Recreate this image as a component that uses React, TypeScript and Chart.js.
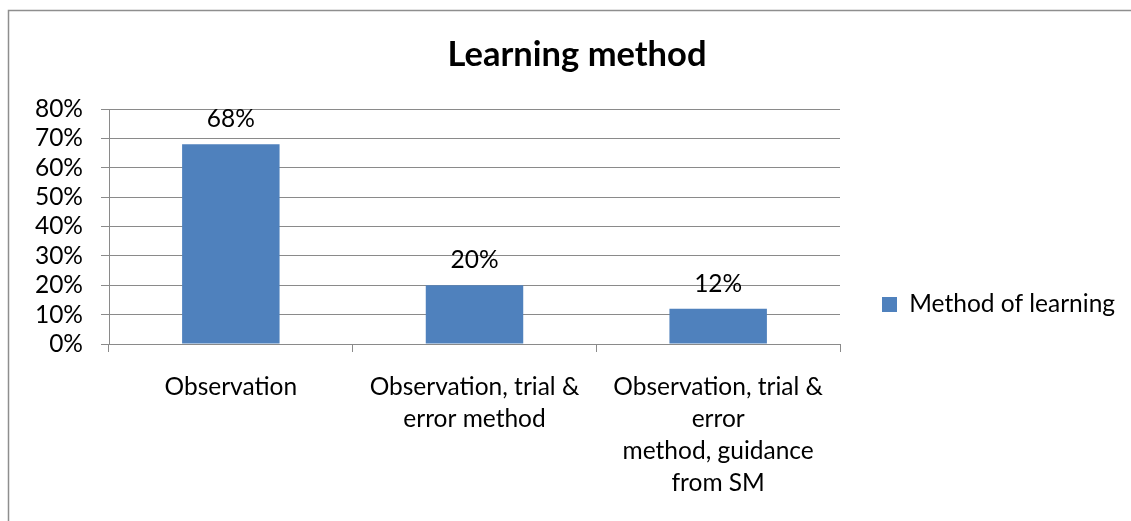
import React, { useEffect, useRef } from 'react';
import { Chart, registerables } from 'chart.js';

Chart.register(...registerables);

// ---- data ----
const chartTitle = 'Learning method';
const seriesName = 'Method of learning';
const categories: string[][] = [
  ['Observation'],
  ['Observation, trial &', 'error method'],
  ['Observation, trial &', 'error', 'method, guidance', 'from SM'],
];
const values: number[] = [68, 20, 12];
const yMax = 80;
const yStep = 10;

// ---- styling ----
const FONT = 'Lato';
const LABEL_SIZE = 24.5;
const TITLE_SIZE = 34.5;
const BAR_COLOR = '#4f81bd';
const GRID_COLOR = '#8a8a8a';
const W = 1131;
const H = 521;

export default function App() {
  const ref = useRef<HTMLCanvasElement>(null);

  useEffect(() => {
    document.body.style.margin = '0';
    const canvas = ref.current!;
    let chart: Chart | null = null;
    let cancelled = false;

    const legendPad = 42;
    const boxW = 15;
    const plotRight = 840;
    const plotLeft = 109;
    const titleCenter = 577;
    const pr = 10;
    const legendW = W - plotRight - pr;
    const pl = 2 * titleCenter - W + pr;
    const padBottom = 3;
    const titleLH = TITLE_SIZE * 1.2;
    const plotTop = 109;
    const titlePadTop = 34;

    const borderPlugin = {
      id: 'outerBorder',
      afterLayout(c: any) {
        // let y tick labels extend left of the padded area without being clipped
        if (c.scales.y) c.scales.y.left = 0;
      },
      beforeDraw(c: any) {
        const ctx = c.ctx;
        ctx.save();
        ctx.fillStyle = '#ffffff';
        ctx.fillRect(0, 0, c.width, c.height);
        ctx.strokeStyle = '#8e8e8e';
        ctx.lineWidth = 1.5;
        ctx.strokeRect(8.5, 10.5, c.width + 50, c.height + 50);
        ctx.restore();
      },
    };

    const valueLabels = {
      id: 'valueLabels',
      afterDatasetsDraw(c: any) {
        const ctx = c.ctx;
        const meta = c.getDatasetMeta(0);
        ctx.save();
        ctx.font = `${LABEL_SIZE}px ${FONT}`;
        ctx.fillStyle = '#000';
        ctx.textAlign = 'center';
        ctx.textBaseline = 'alphabetic';
        meta.data.forEach((bar: any, i: number) => {
          ctx.fillText(`${values[i]}%`, bar.x, bar.y - 17);
        });
        ctx.restore();
      },
    };

    const build = () => {
      if (cancelled) return;
      chart = new Chart(canvas, {
        type: 'bar',
        data: {
          labels: categories,
          datasets: [
            {
              label: seriesName,
              data: values,
              backgroundColor: BAR_COLOR,
              borderWidth: 0,
              barPercentage: 0.4,
              categoryPercentage: 1,
            },
          ],
        },
        options: {
          responsive: false,
          animation: false,
          events: [],
          layout: { padding: { top: 0, bottom: padBottom, left: pl, right: pr } },
          plugins: {
            title: {
              display: true,
              text: chartTitle,
              color: '#000',
              font: { family: FONT, size: TITLE_SIZE, weight: 'bold', lineHeight: 1.2 },
              padding: { top: titlePadTop, bottom: plotTop - titlePadTop - titleLH },
            },
            legend: {
              display: true,
              position: 'right',
              align: 'center',
              maxWidth: legendW,
              title: {
                display: true,
                text: '',
                padding: { top: 81, bottom: 0 },
                font: { size: 10, lineHeight: 1 },
              },
              labels: {
                boxWidth: boxW,
                boxHeight: boxW,
                padding: legendPad,
                color: '#000',
                font: { family: FONT, size: LABEL_SIZE },
              },
            },
            tooltip: { enabled: false },
          },
          scales: {
            x: {
              ticks: {
                color: '#000',
                font: { family: FONT, size: LABEL_SIZE, lineHeight: 32 / LABEL_SIZE },
                padding: 19,
                maxRotation: 0,
                minRotation: 0,
                autoSkip: false,
              },
              grid: {
                display: true,
                drawOnChartArea: false,
                drawTicks: true,
                tickLength: 8,
                offset: true,
                color: GRID_COLOR,
              },
              border: { display: true, color: GRID_COLOR, width: 1 },
            },
            y: {
              min: 0,
              max: yMax,
              ticks: {
                stepSize: yStep,
                autoSkip: false,
                color: '#000',
                font: { family: FONT, size: LABEL_SIZE },
                padding: 18,
                callback: (v: any) => `${v}%`,
              },
              grid: { color: GRID_COLOR, lineWidth: 1, tickLength: 8, drawTicks: true },
              border: { display: true, color: GRID_COLOR, width: 1 },
              afterFit: (s: any) => {
                s.width = plotLeft - pl;
              },
            },
          },
        },
        plugins: [borderPlugin, valueLabels],
      });
    };

    const fontsReady = (document as any).fonts
      ? Promise.all([
          (document as any).fonts.load(`${LABEL_SIZE}px ${FONT}`),
          (document as any).fonts.load(`bold ${TITLE_SIZE}px ${FONT}`),
        ]).catch(() => null)
      : Promise.resolve(null);
    fontsReady.then(build);

    return () => {
      cancelled = true;
      if (chart) chart.destroy();
    };
  }, []);

  return <canvas ref={ref} width={W} height={H} style={{ display: 'block' }} />;
}
